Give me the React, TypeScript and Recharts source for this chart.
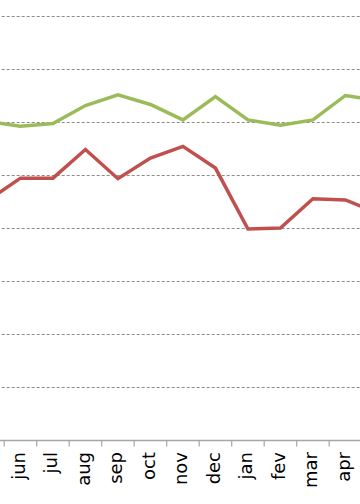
import React from "react";
import { LineChart, Line, XAxis, YAxis, CartesianGrid } from "recharts";

const months = ["may", "jun", "jul", "aug", "sep", "oct", "nov", "dec", "jan", "fev", "mar", "apr", "may"];
const greenSeries = [60.2, 59.3, 59.8, 63.2, 65.2, 63.4, 60.5, 64.9, 60.5, 59.5, 60.5, 65.1, 64.1];
const redSeries = [45.3, 49.5, 49.5, 54.9, 49.4, 53.3, 55.5, 51.4, 39.9, 40.1, 45.6, 45.4, 42.9];
const yTicks = [0, 10, 20, 30, 40, 50, 60, 70, 80];

const data = months.map((m, i) => ({ key: `${m}-${i}`, green: greenSeries[i], red: redSeries[i] }));

const MARGIN = { top: 16.5, right: 10, bottom: 3.5, left: 11.7 };
const CHART_W = 444.2;
const CHART_H = 504;
const PLOT_W = CHART_W - MARGIN.left - MARGIN.right;
const BAND = PLOT_W / months.length;
const AXIS_COLOR = "#a6a6a6";

function MonthTick(props: any) {
  const { x, y, index } = props;
  const bx = x - BAND / 2;
  // the first and last months sit outside the visible window (cropped chart)
  const showLabel = index > 0 && index < months.length - 1;
  return (
    <g>
      <line x1={bx} x2={bx} y1={y - 6} y2={y} stroke={AXIS_COLOR} strokeWidth={1.2} />
      {showLabel && (
        <text
          x={x}
          y={y + 5.5}
          transform={`rotate(-90 ${x} ${y + 5.5})`}
          textAnchor="end"
          dy="0.25em"
          fill="#000"
          fontSize={18}
          fontFamily="'DejaVu Sans', sans-serif"
        >
          {months[index]}
        </text>
      )}
    </g>
  );
}

export default function App() {
  return (
    <div style={{ position: "fixed", left: 0, top: 0, width: 360, height: 504, overflow: "hidden", background: "#fff" }}>
      <div style={{ position: "absolute", left: -40, top: 0 }}>
        <LineChart width={CHART_W} height={CHART_H} data={data} margin={MARGIN}>
          <CartesianGrid vertical={false} stroke="#8c8c8c" strokeDasharray="3 2" />
          <XAxis
            dataKey="key"
            scale="band"
            interval={0}
            height={60}
            tickLine={false}
            tickSize={6}
            tickMargin={0}
            axisLine={{ stroke: AXIS_COLOR, strokeWidth: 1.5 }}
            tick={MonthTick}
          />
          <YAxis hide domain={[0, 80]} ticks={yTicks} />
          <Line type="linear" dataKey="green" stroke="#9bbb59" strokeWidth={3.5} dot={false} isAnimationActive={false} />
          <Line type="linear" dataKey="red" stroke="#c0504d" strokeWidth={3.5} dot={false} isAnimationActive={false} />
        </LineChart>
      </div>
    </div>
  );
}
